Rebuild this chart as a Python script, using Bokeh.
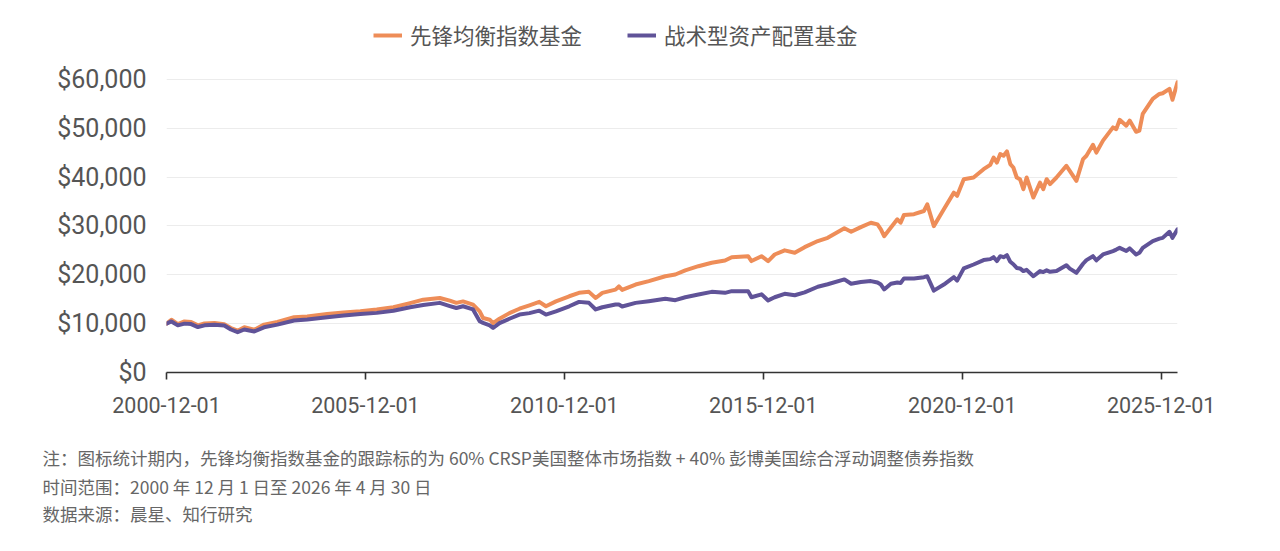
from datetime import datetime
import pandas as pd
from bokeh.plotting import figure
from bokeh.layouts import column
from bokeh.models import (Range1d, FixedTicker, DatetimeTickFormatter, NumeralTickFormatter,
                          Title, Legend, LegendItem, ColumnDataSource)
from bokeh.embed import file_html
from bokeh.resources import INLINE

# ---------------- data ----------------
dates = [
    "2000-12-01", "2001-01-15", "2001-03-15", "2001-05-15", "2001-07-15", "2001-09-15", "2001-11-15",
    "2002-02-15", "2002-05-15", "2002-07-15", "2002-09-15", "2002-11-15", "2003-02-15", "2003-05-15",
    "2003-09-15", "2004-02-15", "2004-06-15", "2004-12-15", "2005-05-15", "2005-10-15", "2006-03-15",
    "2006-08-15", "2007-01-15", "2007-05-15", "2007-10-15", "2008-01-15", "2008-03-15", "2008-05-15",
    "2008-08-15", "2008-10-15", "2008-11-15", "2009-01-15", "2009-02-15", "2009-04-15", "2009-07-15",
    "2009-10-15", "2010-01-15", "2010-04-15", "2010-06-15", "2010-09-15", "2011-01-15", "2011-04-15",
    "2011-07-15", "2011-09-15", "2011-11-15", "2012-03-15", "2012-04-15", "2012-05-15", "2012-09-15",
    "2013-01-15", "2013-06-15", "2013-09-15", "2013-12-15", "2014-04-15", "2014-08-15", "2014-12-15",
    "2015-02-15", "2015-07-15", "2015-08-15", "2015-11-15", "2016-01-15", "2016-03-15", "2016-06-15",
    "2016-09-15", "2016-12-15", "2017-04-15", "2017-07-15", "2017-12-15", "2018-02-15", "2018-05-15",
    "2018-08-15", "2018-10-15", "2018-11-15", "2018-12-15", "2019-02-15", "2019-04-15", "2019-05-15",
    "2019-06-15", "2019-09-15", "2019-12-15", "2020-01-15", "2020-03-15", "2020-06-15", "2020-09-15",
    "2020-10-15", "2020-12-15", "2021-03-15", "2021-06-15", "2021-08-15", "2021-09-15", "2021-10-15",
    "2021-11-15", "2021-12-15", "2022-01-15", "2022-02-15", "2022-03-15", "2022-04-15", "2022-05-15",
    "2022-06-15", "2022-07-15", "2022-09-15", "2022-11-15", "2022-12-15", "2023-01-15", "2023-02-15",
    "2023-04-15", "2023-07-15", "2023-08-15", "2023-10-15", "2023-12-15", "2024-01-15", "2024-03-15",
    "2024-04-15", "2024-06-15", "2024-09-15", "2024-10-15", "2024-11-15", "2025-01-15", "2025-02-15",
    "2025-04-15", "2025-05-15", "2025-06-15", "2025-09-15", "2025-11-15", "2025-12-15", "2026-02-15",
    "2026-03-15", "2026-04-30",
]

balanced_index = [
    10000, 10800, 9900, 10450, 10350, 9650, 10050,
    10150, 9900, 9100, 8550, 9250, 8750, 9800,
    10350, 11300, 11450, 11950, 12300, 12550, 12900,
    13350, 14200, 14900, 15250, 14700, 14250, 14550,
    13900, 12500, 11150, 10800, 10100, 11000, 12150,
    13050, 13750, 14450, 13550, 14550, 15600, 16300,
    16500, 15250, 16300, 16950, 17600, 16900, 18000,
    18700, 19700, 20050, 20900, 21750, 22450, 22900,
    23600, 23800, 22800, 23800, 22800, 24150, 25000,
    24500, 25650, 26900, 27550, 29500, 28800, 29750,
    30650, 30300, 29300, 27900, 29650, 31350, 30650,
    32250, 32400, 33050, 34400, 29950, 33400, 36800,
    36150, 39550, 39900, 41600, 42500, 44000, 42950,
    44700, 44350, 45250, 42650, 41950, 39900, 39550,
    37500, 39900, 35800, 38850, 37500, 39550, 38550,
    39900, 42300, 41250, 39200, 43650, 44350, 46600,
    45000, 47450, 50150, 49800, 51700, 50500, 51550,
    49250, 49500, 52900, 56000, 57000, 57150, 58050,
    55800, 59400,
]

tactical_allocation = [
    10000, 10450, 9650, 10000, 9900, 9300, 9650,
    9750, 9600, 8800, 8250, 8800, 8400, 9250,
    9800, 10650, 10850, 11300, 11650, 11950, 12200,
    12650, 13350, 13800, 14250, 13600, 13200, 13550,
    12900, 10500, 10150, 9650, 9100, 10100, 11000,
    11850, 12150, 12650, 11850, 12500, 13550, 14450,
    14250, 12900, 13350, 13900, 13900, 13500, 14250,
    14600, 15100, 14800, 15400, 15950, 16500, 16300,
    16650, 16650, 15400, 16000, 14750, 15400, 16100,
    15800, 16400, 17550, 18050, 19050, 18150, 18500,
    18700, 18400, 18000, 17000, 18150, 18400, 18300,
    19250, 19250, 19500, 19700, 16750, 18000, 19500,
    18800, 21300, 22100, 23000, 23200, 23600, 22800,
    23800, 23600, 24000, 22650, 22150, 21400, 21300,
    20750, 21000, 19700, 20750, 20550, 20900, 20600,
    20750, 21950, 21250, 20400, 22250, 23000, 23800,
    22950, 24150, 24850, 25150, 25500, 24850, 25400,
    24150, 24500, 25500, 26900, 27400, 27550, 28800,
    27550, 29300,
]

series_names = ["先锋均衡指数基金", "战术型资产配置基金"]
series_colors = ["#EE8D58", "#605398"]

x_tick_labels = ["2000-12-01", "2005-12-01", "2010-12-01", "2015-12-01", "2020-12-01", "2025-12-01"]
y_tick_values = [0, 10000, 20000, 30000, 40000, 50000, 60000]

notes = [
    "注：图标统计期内，先锋均衡指数基金的跟踪标的为 60% CRSP美国整体市场指数 + 40% 彭博美国综合浮动调整债券指数",
    "时间范围：2000 年 12 月 1 日至 2026 年 4 月 30 日",
    "数据来源：晨星、知行研究",
]

FONT_NUM = "Roboto"
FONT_CJK = "Noto Sans CJK SC"
W = 1264

# ---------------- legend strip ----------------
top = figure(width=W, height=61, x_range=Range1d(0, 1), y_range=Range1d(0, 1),
             x_axis_location=None, y_axis_location=None,
             output_backend="svg", toolbar_location=None,
             min_border=0, outline_line_color=None,
             background_fill_color="white", border_fill_color="white")
top.grid.visible = False
d1 = top.line(x=[0, 1], y=[-5, -5], line_color=series_colors[0], line_width=4)
d2 = top.line(x=[0, 1], y=[-5, -5], line_color=series_colors[1], line_width=4)
legend = Legend(
    items=[LegendItem(label=series_names[0], renderers=[d1]),
           LegendItem(label=series_names[1], renderers=[d2])],
    orientation="horizontal", location=(207, 11),
    label_text_font=FONT_CJK, label_text_font_size="21.5px", label_text_color="#555555",
    glyph_width=29, glyph_height=26, label_height=26, label_standoff=8, spacing=45,
    border_line_color=None, background_fill_alpha=0, padding=0, margin=0,
)
top.add_layout(legend, "center")

# ---------------- main chart ----------------
src = ColumnDataSource(dict(
    date=pd.to_datetime(dates),
    a=balanced_index,
    b=tactical_allocation,
))

p = figure(
    width=W, height=474,
    x_axis_type="datetime",
    x_range=Range1d(start=datetime(2000, 12, 1), end=datetime(2026, 4, 30)),
    y_range=Range1d(start=0, end=62000),
    output_backend="svg", toolbar_location=None,
    min_border_left=166, min_border_right=87, min_border_top=8, min_border_bottom=163,
    background_fill_color="white", border_fill_color="white",
    outline_line_color=None,
)

p.line("date", "a", source=src, line_color=series_colors[0], line_width=4,
       line_join="round", line_cap="round")
p.line("date", "b", source=src, line_color=series_colors[1], line_width=4,
       line_join="round", line_cap="round")

tick_ms = [pd.Timestamp(t).value // 10**6 for t in x_tick_labels]
p.xaxis.ticker = FixedTicker(ticks=tick_ms)
fmt = "%Y-%m-%d"
p.xaxis.formatter = DatetimeTickFormatter(
    milliseconds=fmt, seconds=fmt, minsec=fmt, minutes=fmt, hourmin=fmt, hours=fmt,
    days=fmt, months=fmt, years=fmt)
p.xaxis.axis_line_color = "#333333"
p.xaxis.axis_line_width = 1.6
p.xaxis.major_tick_line_color = "#333333"
p.xaxis.major_tick_line_width = 1.6
p.xaxis.major_tick_out = 7
p.xaxis.major_tick_in = 0
p.xaxis.minor_tick_line_color = None
p.xaxis.major_label_text_font = FONT_NUM
p.xaxis.major_label_text_font_size = "21.5px"
p.xaxis.major_label_text_color = "#555555"
p.xaxis.major_label_standoff = 17

p.yaxis.ticker = FixedTicker(ticks=y_tick_values)
p.yaxis.formatter = NumeralTickFormatter(format="$0,0")
p.yaxis.axis_line_color = None
p.yaxis.major_tick_line_color = None
p.yaxis.minor_tick_line_color = None
p.yaxis.major_label_text_font = FONT_NUM
p.yaxis.major_label_text_font_size = "25px"
p.yaxis.major_label_text_color = "#555555"
p.yaxis.major_label_standoff = 14

p.xgrid.grid_line_color = None
p.ygrid.grid_line_color = "#ECECEC"
p.ygrid.grid_line_width = 1.2

# blank spacer between the axis and the notes
p.add_layout(Title(text=" ", text_font=FONT_CJK, text_font_size="10px",
                   text_font_style="normal", standoff=8), "below")

# notes as titles stacked below the x axis
note_standoff = [4, 0, 0]
for t, so in zip(notes, note_standoff):
    p.add_layout(Title(text=t, align="left", offset=-124, text_font=FONT_CJK,
                       text_font_size="17.5px", text_font_style="normal",
                       text_color="#666666", standoff=so), "below")

page = column(top, p, spacing=0)
open("out.html", "w").write(file_html(page, INLINE))
